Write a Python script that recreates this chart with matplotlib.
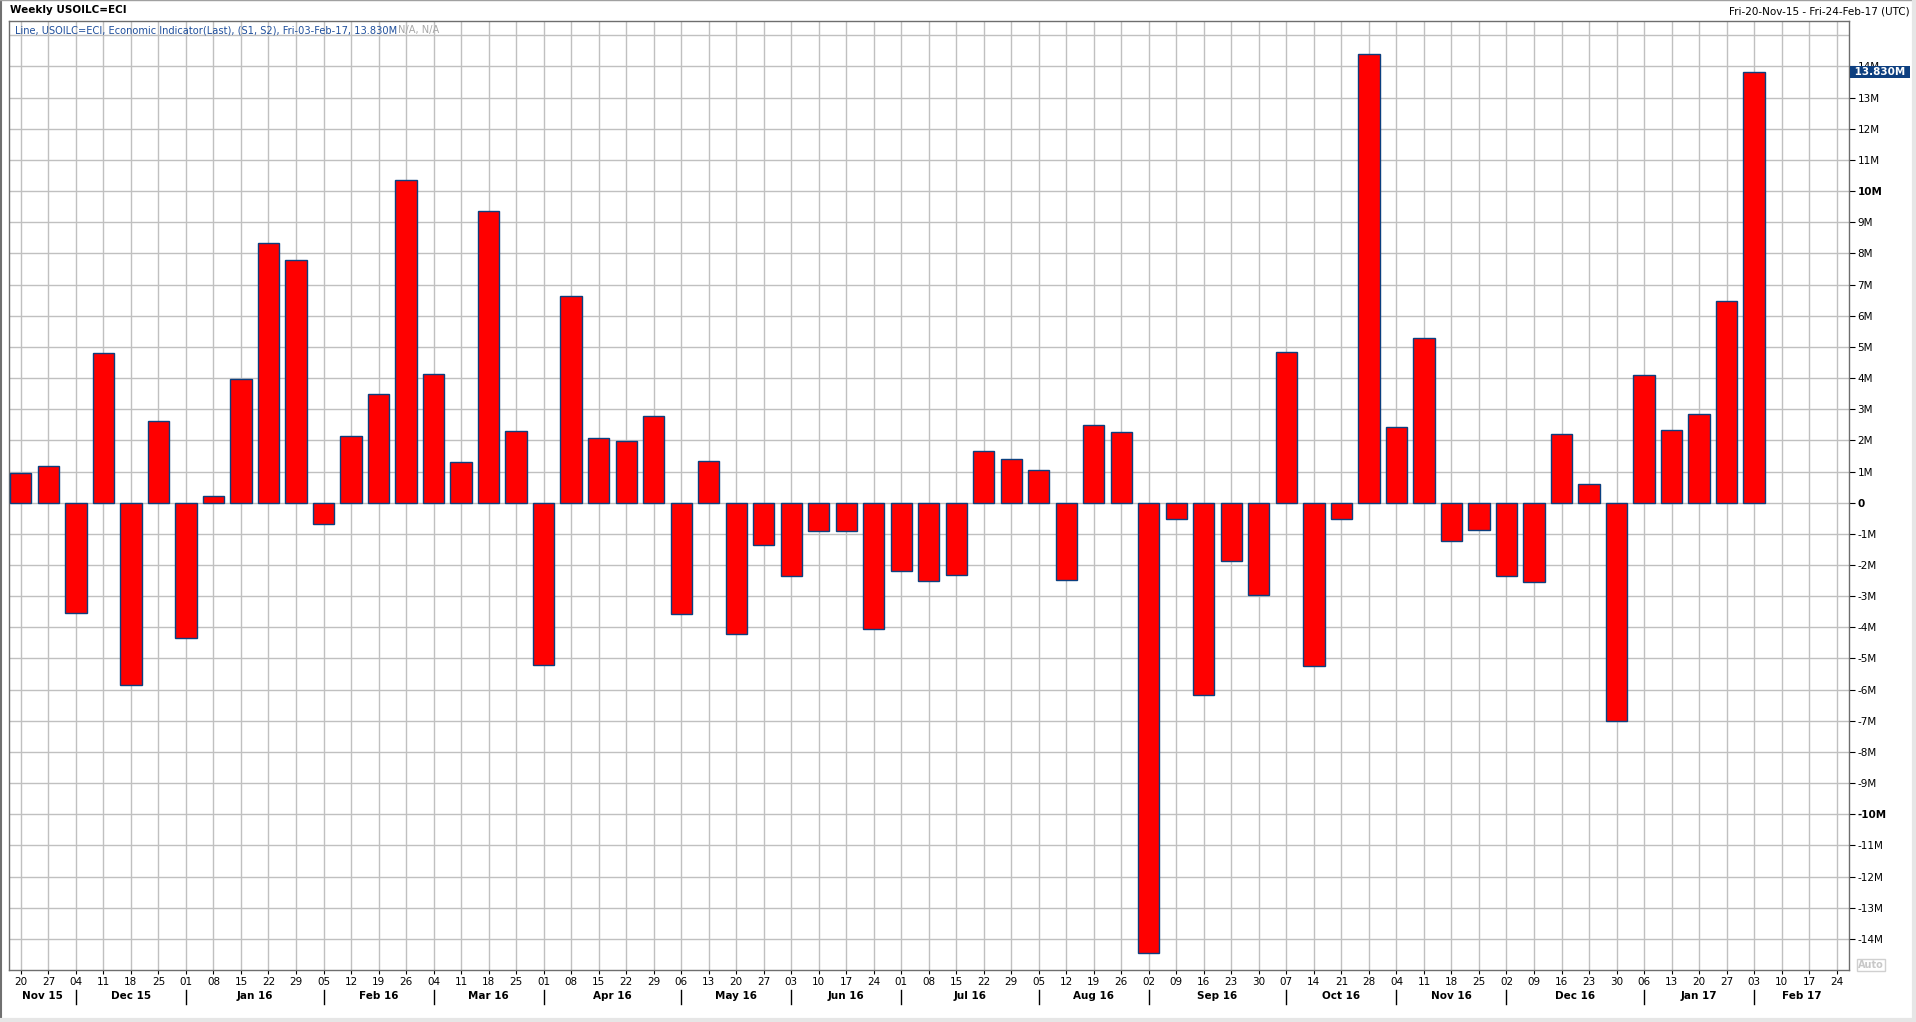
import matplotlib
matplotlib.use("Agg")
import matplotlib.pyplot as plt
import matplotlib.dates as mdates
import matplotlib.transforms as mtransforms
from matplotlib.lines import Line2D
import pandas as pd

# weekly change in US crude inventories (USOILC=ECI), millions of barrels
weeks = pd.date_range("2015-11-20", "2017-02-03", freq="7D")
values = [0.96, 1.18, -3.55, 4.80, -5.84, 2.63, -4.35, 0.22, 3.98, 8.35,
          7.78, -0.67, 2.14, 3.49, 10.37, 4.12, 1.31, 9.35, 2.29, -5.20,
          6.63, 2.08, 1.98, 2.78, -3.57, 1.33, -4.22, -1.35, -2.35, -0.92,
          -0.92, -4.04, -2.20, -2.51, -2.31, 1.67, 1.41, 1.06, -2.47, 2.49,
          2.27, -14.45, -0.53, -6.16, -1.86, -2.96, 4.82, -5.24, -0.53, 14.41,
          2.43, 5.27, -1.24, -0.88, -2.35, -2.55, 2.22, 0.61, -7.02, 4.10,
          2.33, 2.84, 6.47, 13.83]
tick_weeks = pd.date_range("2015-11-20", "2017-02-24", freq="7D")
y_levels = list(range(-14, 15))
last_label = "13.830M"

title_left = "Weekly USOILC=ECI"
title_right = "Fri-20-Nov-15 - Fri-24-Feb-17 (UTC)"
legend_main = "Line, USOILC=ECI, Economic Indicator(Last), (S1, S2), Fri-03-Feb-17, 13.830M"
legend_na = "N/A, N/A"

W, H = 1916, 1022
fig = plt.figure(figsize=(W / 100, H / 100), dpi=100)
fig.patch.set_facecolor("white")

# axes box in pixels
x0, x1, ytop, ybot = 8.5, 1849, 21, 970
ax = fig.add_axes([x0 / W, 1 - ybot / H, (x1 - x0) / W, (ybot - ytop) / H])

ax.bar(weeks, values, width=5.4, color="#ff0000", edgecolor="#0b3f7f",
       linewidth=1.0, zorder=3)

pad = pd.Timedelta(days=0.45 * 7)
ax.set_xlim(tick_weeks[0] - pad, tick_weeks[-1] + pad)
ax.set_ylim(-15.0, 15.46)

# grid
ax.set_xticks(tick_weeks)
ax.set_xticklabels([d.strftime("%d") for d in tick_weeks])
ax.set_yticks(y_levels)
ylabels = []
for v in y_levels:
    ylabels.append("0" if v == 0 else f"{v}M")
ax.set_yticklabels(ylabels)
ax.grid(True, color="#c0c0c0", linewidth=1.0, zorder=0)
ax.axhline(15, color="#c0c0c0", linewidth=1.0, zorder=0)
ax.set_axisbelow(True)

ax.yaxis.tick_right()
ax.tick_params(axis="y", direction="out", length=4, width=0.8, pad=2,
               labelsize=7.5, colors="#000000")
ax.tick_params(axis="x", direction="out", length=3, width=0.8, pad=2,
               labelsize=7.5)
for lab in ax.get_yticklabels():
    if lab.get_text() in ("0", "10M", "-10M"):
        lab.set_fontweight("bold")

for sp in ax.spines.values():
    sp.set_color("#6e6e6e")
    sp.set_linewidth(1.0)

# month labels and separators under the day ticks
trans = mtransforms.blended_transform_factory(ax.transData, fig.transFigure)
firsts = []
prev = None
for d in tick_weeks:
    if prev is None or d.month != prev.month:
        firsts.append(d)
    prev = d
edges = [ax.get_xlim()[0]] + [mdates.date2num(d) for d in firsts[1:]] + [ax.get_xlim()[1]]
for i, d in enumerate(firsts):
    if i > 0:
        ax.plot([d, d], [1 - 990 / H, 1 - 1004 / H], color="black", lw=1.0,
                transform=trans, clip_on=False)
    xc = (edges[i] + edges[i + 1]) / 2
    ax.text(xc, 1 - 996 / H, d.strftime("%b %y"), transform=trans,
            ha="center", va="center", fontsize=7.5, fontweight="bold")

# last value marker on right axis
ax.text(1.0012, values[-1], f" {last_label} ", transform=ax.get_yaxis_transform(),
        ha="left", va="center", fontsize=7.5, fontweight="bold", color="white",
        bbox=dict(boxstyle="square,pad=0.12", facecolor="#0d3f80", edgecolor="none"),
        zorder=5, clip_on=False)

# "Auto" box
fig.text(1858 / W, 1 - 965 / H, "Auto", fontsize=7, fontweight="bold",
         color="#c8c8c8", ha="left", va="center",
         bbox=dict(boxstyle="square,pad=0.1", facecolor="white", edgecolor="#d0d0d0"))

# header texts
fig.text(10 / W, 1 - 10 / H, title_left, fontsize=7.5, fontweight="bold",
         ha="left", va="center")
fig.text(1910 / W, 1 - 12 / H, title_right, fontsize=7.5, ha="right", va="center")
t = fig.text(15.5 / W, 1 - 30.5 / H, legend_main, fontsize=7.1, color="#1f4f9c",
             ha="left", va="center", zorder=6)
fig.canvas.draw()
bb = t.get_window_extent()
fig.text(bb.x1 / W, 1 - 30.5 / H, legend_na,
         fontsize=7.1, color="#a8a8a8", ha="left", va="center")

# outer frame
fig.add_artist(Line2D([0.5 / W, 0.5 / W], [0, 1], color="#707070", lw=1.5,
                      transform=fig.transFigure))
fig.add_artist(Line2D([0, 1], [1 - 0.5 / H, 1 - 0.5 / H], color="#a0a0a0", lw=1.0,
                      transform=fig.transFigure))
fig.add_artist(Line2D([0, 1], [2 / H, 2 / H], color="#e6e6e6", lw=3,
                      transform=fig.transFigure))
fig.add_artist(Line2D([1 - 2 / W, 1 - 2 / W], [0, 1], color="#e6e6e6", lw=3,
                      transform=fig.transFigure))

fig.savefig("out.png", dpi=100, facecolor="white")
